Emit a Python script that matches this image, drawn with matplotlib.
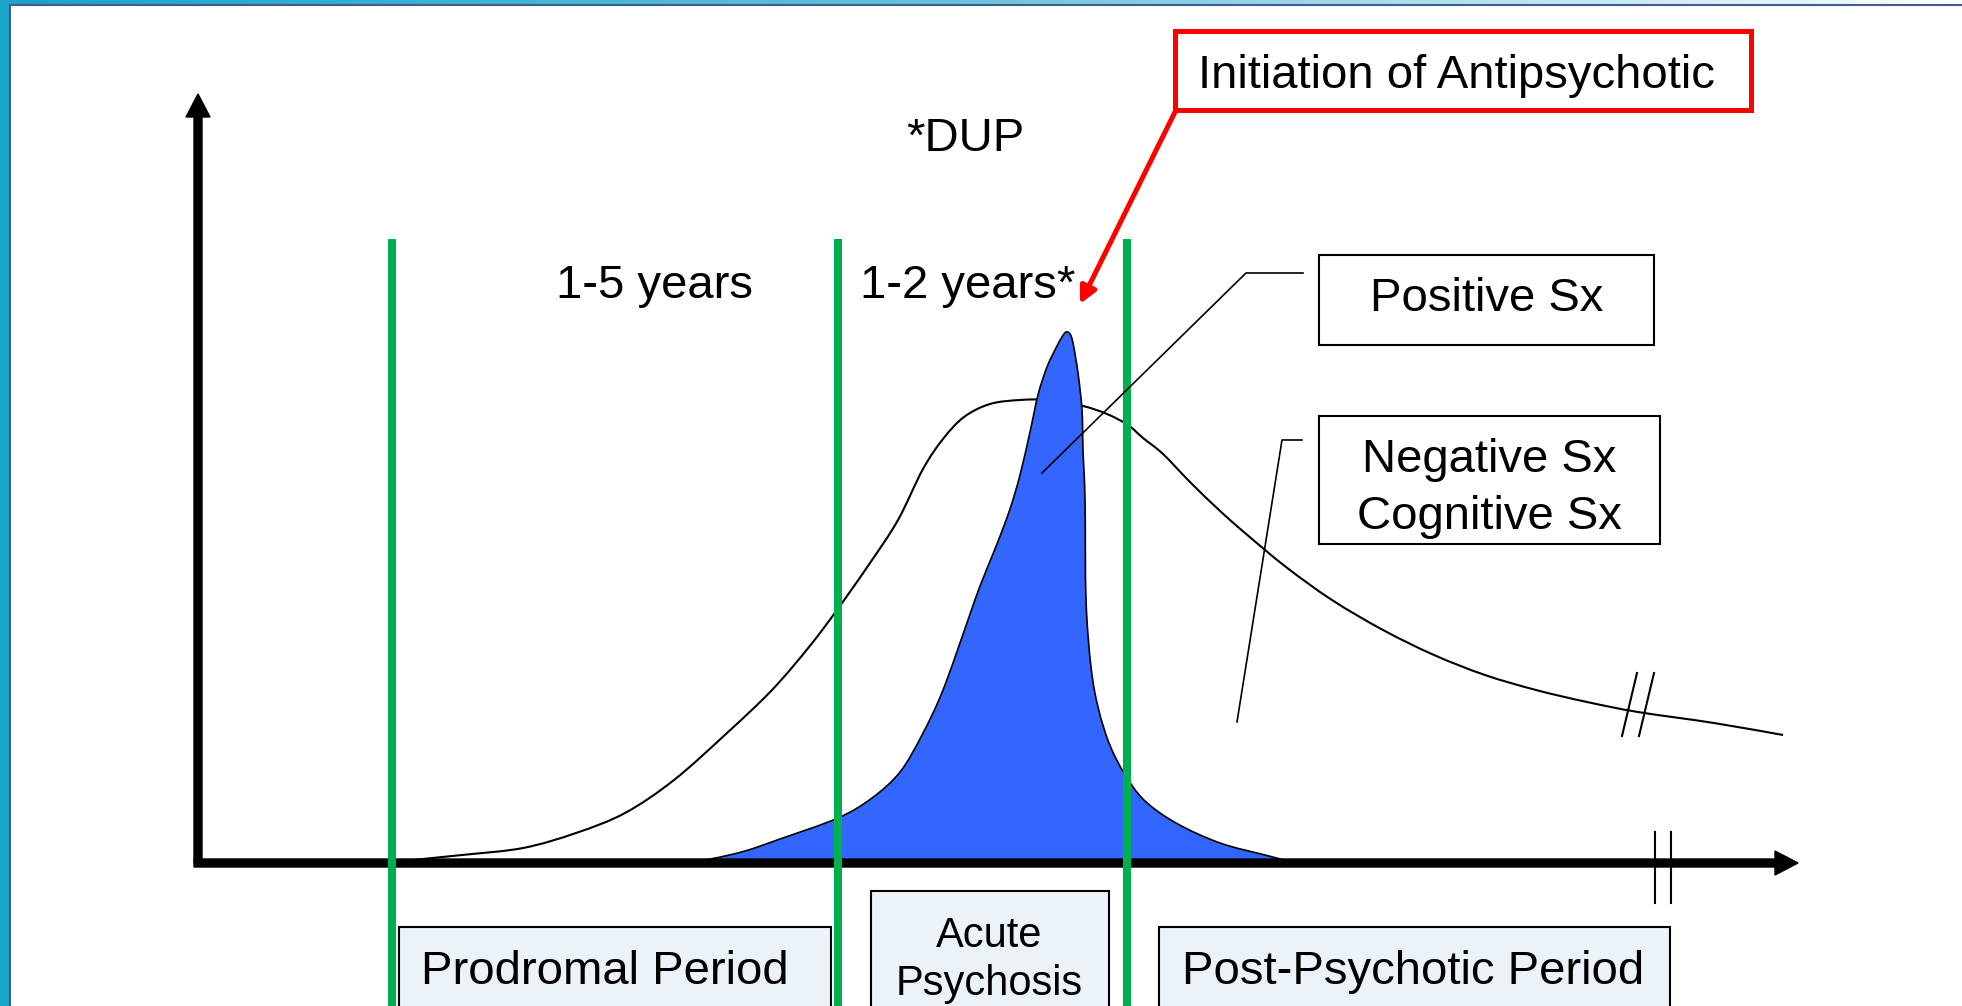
import matplotlib
matplotlib.use("Agg")
import matplotlib.pyplot as plt
import numpy as np
from matplotlib.patches import Rectangle, PathPatch
from matplotlib.path import Path
from matplotlib.colors import LinearSegmentedColormap

plt.rcParams["font.family"] = ["Liberation Sans", "DejaVu Sans"]

# negative / cognitive symptoms curve (time, severity)
neg_x = [19.4, 26.4, 32.5, 37.8, 42.7, 47.6, 52.9, 57.4, 61.1, 63.9, 67.2, 70.0,
         72.5, 74.5, 76.6, 79.2, 82.2, 85.2, 88.5, 90.9, 93.0, 94.5, 96.5, 99.2,
         102.1, 104.7, 108.8, 113.4, 118.5, 123.6, 128.7, 133.8, 138.9, 144.0,
         151.6, 158.5]
neg_y = [0.1, 0.8, 1.5, 3.0, 5.0, 8.3, 13.0, 17.3, 21.6, 25.3, 30.0, 34.3,
         39.4, 42.4, 44.6, 45.9, 46.3, 46.3, 45.7, 44.9, 43.8, 42.5, 40.9, 38.1,
         35.3, 33.0, 29.6, 26.3, 23.3, 20.8, 18.8, 17.3, 16.1, 15.1, 14.0, 12.8]

# positive symptoms curve
pos_x = [47.8, 51.2, 54.7, 58.2, 64.0, 67.4, 70.2, 72.4, 74.5, 77.0, 78.2, 79.9,
         81.2, 82.2, 83.2, 84.0, 84.9, 85.9, 86.4, 86.8, 87.2, 87.5, 88.0, 88.4,
         88.5, 88.7, 88.8, 89.3, 90.0, 91.1, 92.6, 94.6, 97.8, 102.2, 106.7, 109.8]
pos_y = [0.0, 0.4, 1.2, 2.4, 4.5, 6.5, 9.1, 12.8, 17.3, 24.3, 27.7, 31.9,
         35.4, 38.8, 43.1, 46.8, 49.6, 51.7, 52.6, 53.1, 52.9, 52.0, 49.0, 45.3,
         41.3, 36.3, 26.3, 19.6, 15.6, 12.0, 9.0, 6.3, 4.0, 2.0, 0.8, 0.0]

# phase boundaries (green lines)
phase_bounds = [19.4, 64.0, 92.9]
phase_labels = ["Prodromal Period", "Acute\nPsychosis", "Post-Psychotic Period"]
duration_labels = ["1-5 years", "1-2 years*"]


def smooth_path(xs, ys, close=False):
    # catmull-rom through the read points, drawn as bezier segments
    p = np.column_stack([xs, ys])
    verts = [p[0]]
    codes = [Path.MOVETO]
    n = len(p)
    for i in range(n - 1):
        p0 = p[max(i - 1, 0)]
        p1, p2 = p[i], p[i + 1]
        p3 = p[min(i + 2, n - 1)]
        verts += [p1 + (p2 - p0) / 6, p2 - (p3 - p1) / 6, p2]
        codes += [Path.CURVE4] * 3
    if close:
        verts.append(p[0])
        codes.append(Path.CLOSEPOLY)
    return Path(verts, codes)


fig = plt.figure(figsize=(19.62, 10.06), dpi=100)
ax = fig.add_axes([0, 0, 1, 1])
ax.axis("off")

fs = 34
green = "#00B050"

# slide frame
teal = LinearSegmentedColormap.from_list("frame", ["#1AA4C6", "#6CC3DB", "#FFFFFF"])
ax.imshow(np.linspace(0, 1, 256).reshape(1, -1), cmap=teal, aspect="auto",
          extent=(-19.8, 176.4, 85.9, 86.3), zorder=1)
ax.add_patch(Rectangle((-19.8, -14.3), 0.9, 100.6, color="#1AA4C6", zorder=1))
ax.plot([-18.8, -18.8], [-14.3, 85.8], color="#3D5C9C", lw=1.5, zorder=1)
ax.plot([-18.8, 176.4], [85.8, 85.8], color="#3D5C9C", lw=1.5, zorder=1)
ax.set_xlim(-19.8, 176.4)
ax.set_ylim(-14.3, 86.3)

# curves
ax.add_patch(PathPatch(smooth_path(neg_x, neg_y), facecolor="none",
                       edgecolor="black", lw=1.5, zorder=3))
ax.add_patch(PathPatch(smooth_path(pos_x, pos_y, close=True), facecolor="#3366FF",
                       edgecolor="black", lw=1.2, zorder=4))

# axes arrows
ax.arrow(0, 0, 0, 76.9, width=0.8, head_width=2.4, head_length=2.3,
         length_includes_head=True, color="black", zorder=5)
ax.arrow(-0.4, 0, 160.4, 0, width=0.8, head_width=2.4, head_length=2.3,
         length_includes_head=True, color="black", zorder=5)

# axis break marks
for bx in [145.7, 147.3]:
    ax.plot([bx, bx], [-4.0, 3.1], color="black", lw=1.5, zorder=5)
for dx in [0, 1.7]:
    ax.plot([142.4 + dx, 143.9 + dx], [12.7, 19.0], color="black", lw=1.5, zorder=5)

# phase lines
for gx in phase_bounds:
    ax.plot([gx, gx], [-15, 62.4], color=green, lw=5.8, zorder=6, solid_capstyle="butt")

# duration text
ax.text(45.65, 56.5, duration_labels[0], fontsize=fs, ha="center", va="baseline")
ax.text(77.0, 56.5, duration_labels[1], fontsize=fs, ha="center", va="baseline")
ax.text(76.7, 71.2, "*DUP", fontsize=fs, ha="center", va="baseline")

# antipsychotic box and arrow
ax.add_patch(Rectangle((97.7, 75.3), 57.6, 7.9, facecolor="white",
                       edgecolor="#FF0000", lw=3.6, zorder=6))
ax.text(125.85, 77.5, "Initiation of Antipsychotic", fontsize=fs,
        ha="center", va="baseline", zorder=7)
ax.annotate("", xy=(88.2, 55.9), xytext=(97.8, 75.3),
            arrowprops=dict(arrowstyle="-|>,head_length=1.0,head_width=0.5",
                            color="#FF0000", lw=3.6, shrinkA=0, shrinkB=0),
            zorder=6)

# symptom labels
ax.add_patch(Rectangle((112.1, 51.8), 33.5, 9.0, facecolor="white",
                       edgecolor="black", lw=1.5, zorder=6))
ax.text(128.9, 55.2, "Positive Sx", fontsize=fs, ha="center", va="baseline", zorder=7)
ax.plot([84.4, 104.8, 110.5], [39.0, 59.0, 59.0], color="black", lw=1.2, zorder=7)

ax.add_patch(Rectangle((112.1, 31.9), 34.1, 12.8, facecolor="white",
                       edgecolor="black", lw=1.5, zorder=6))
ax.text(129.15, 39.1, "Negative Sx", fontsize=fs, ha="center", va="baseline", zorder=7)
ax.text(129.15, 33.4, "Cognitive Sx", fontsize=fs, ha="center", va="baseline", zorder=7)
ax.plot([103.9, 108.4, 110.4], [14.1, 42.3, 42.3], color="black", lw=1.2, zorder=7)

# phase boxes
box_fill = "#ECF3F8"
ax.add_patch(Rectangle((20.1, -16), 43.2, 9.6, facecolor=box_fill,
                       edgecolor="black", lw=1.5, zorder=7))
ax.text(40.65, -12.1, phase_labels[0], fontsize=fs, ha="center", va="baseline", zorder=8)
ax.add_patch(Rectangle((67.3, -16), 23.8, 13.2, facecolor=box_fill,
                       edgecolor="black", lw=1.5, zorder=7))
ax.text(79.1, -8.4, "Acute", fontsize=30, ha="center", va="baseline", zorder=8)
ax.text(79.1, -13.2, "Psychosis", fontsize=30, ha="center", va="baseline", zorder=8)
ax.add_patch(Rectangle((96.1, -16), 51.1, 9.6, facecolor=box_fill,
                       edgecolor="black", lw=1.5, zorder=7))
ax.text(121.55, -12.1, phase_labels[2], fontsize=fs, ha="center", va="baseline", zorder=8)

fig.savefig("out.png", dpi=100)
